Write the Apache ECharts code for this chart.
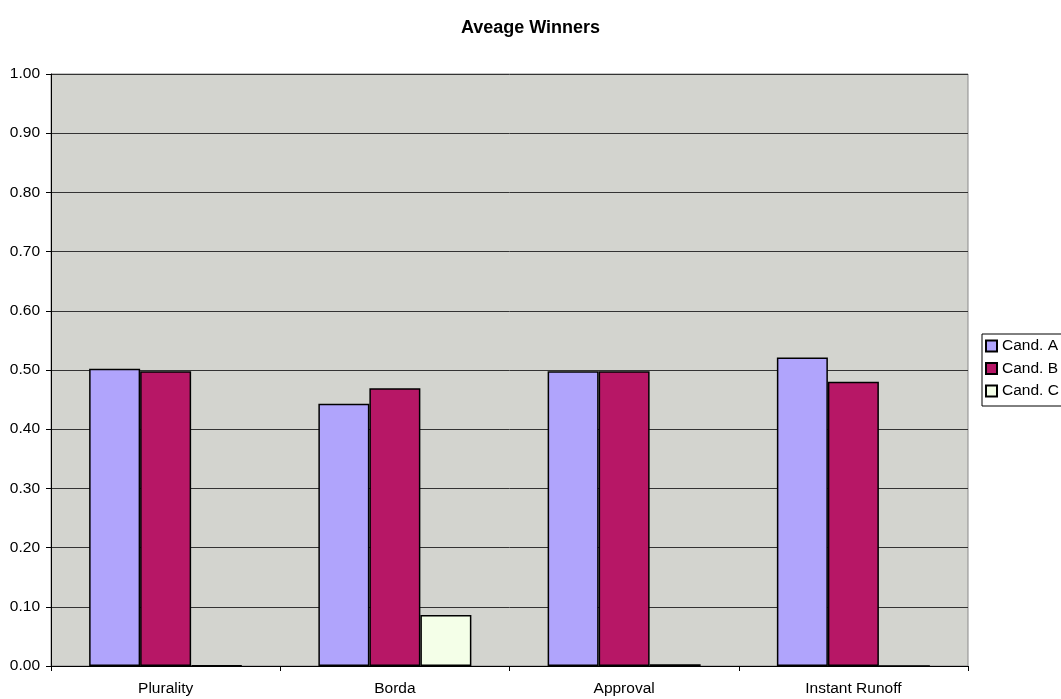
<!DOCTYPE html>
<html>
<head>
<meta charset="utf-8">
<script src="https://cdn.jsdelivr.net/npm/echarts@6/dist/echarts.min.js"></script>
<style>
html, body { margin: 0; padding: 0; background: #fff; }
#chart { width: 1061px; height: 699px; }
</style>
</head>
<body>
<div id="chart"></div>
<script>
// Voting methods along the x axis
const categories = ['Plurality', 'Borda', 'Approval', 'Instant Runoff'];

// Average share of wins per candidate
const candA = [0.502, 0.443, 0.498, 0.521];
const candB = [0.498, 0.469, 0.498, 0.480];
const candC = [0.001, 0.086, 0.003, 0.000];

const seriesNames = ['Cand. A', 'Cand. B', 'Cand. C'];
const seriesColors = ['#B0A4FC', '#B71766', '#F4FFE8'];

const font = '"Liberation Sans", Arial, sans-serif';

const chart = echarts.init(document.getElementById('chart'), null, { renderer: 'canvas' });

function bar(name, data, color) {
  return {
    name: name,
    type: 'bar',
    data: data,
    barWidth: 51,
    barGap: '0%',
    itemStyle: { color: color, borderColor: '#000', borderWidth: 1.5 },
    emphasis: { disabled: true }
  };
}

chart.setOption({
  animation: false,
  title: {
    text: 'Aveage Winners',
    left: 'center',
    top: 14,
    textStyle: { fontFamily: font, fontSize: 18, fontWeight: 'bold', color: '#000' }
  },
  legend: {
    orient: 'vertical',
    left: 982,
    top: 334,
    itemWidth: 11,
    itemHeight: 11,
    itemGap: 6.5,
    icon: 'rect',
    padding: [4, 10, 7, 3],
    borderColor: '#000',
    borderWidth: 1,
    backgroundColor: '#fff',
    textStyle: { fontFamily: font, fontSize: 15.5, color: '#000' },
    data: seriesNames
  },
  grid: {
    left: 51,
    top: 74,
    width: 917,
    height: 592,
    show: true,
    backgroundColor: '#D3D4CF',
    borderColor: '#8A8A8A',
    borderWidth: 1
  },
  xAxis: {
    type: 'category',
    data: categories,
    axisLine: { lineStyle: { color: '#000', width: 1 } },
    axisTick: { show: true, length: 5, interval: 0, lineStyle: { color: '#000' } },
    axisLabel: { fontFamily: font, fontSize: 15.5, color: '#000', margin: 15 }
  },
  yAxis: {
    type: 'value',
    min: 0,
    max: 1,
    interval: 0.1,
    axisLine: { show: true, lineStyle: { color: '#000', width: 1 } },
    axisTick: { show: true, length: 5, lineStyle: { color: '#000' } },
    axisLabel: {
      fontFamily: font, fontSize: 15.5, color: '#000', margin: 11,
      formatter: v => v.toFixed(2)
    },
    splitLine: { show: true, lineStyle: { color: '#333', width: 1 } }
  },
  series: [
    bar(seriesNames[0], candA, seriesColors[0]),
    bar(seriesNames[1], candB, seriesColors[1]),
    bar(seriesNames[2], candC, seriesColors[2])
  ]
});
</script>
</body>
</html>
